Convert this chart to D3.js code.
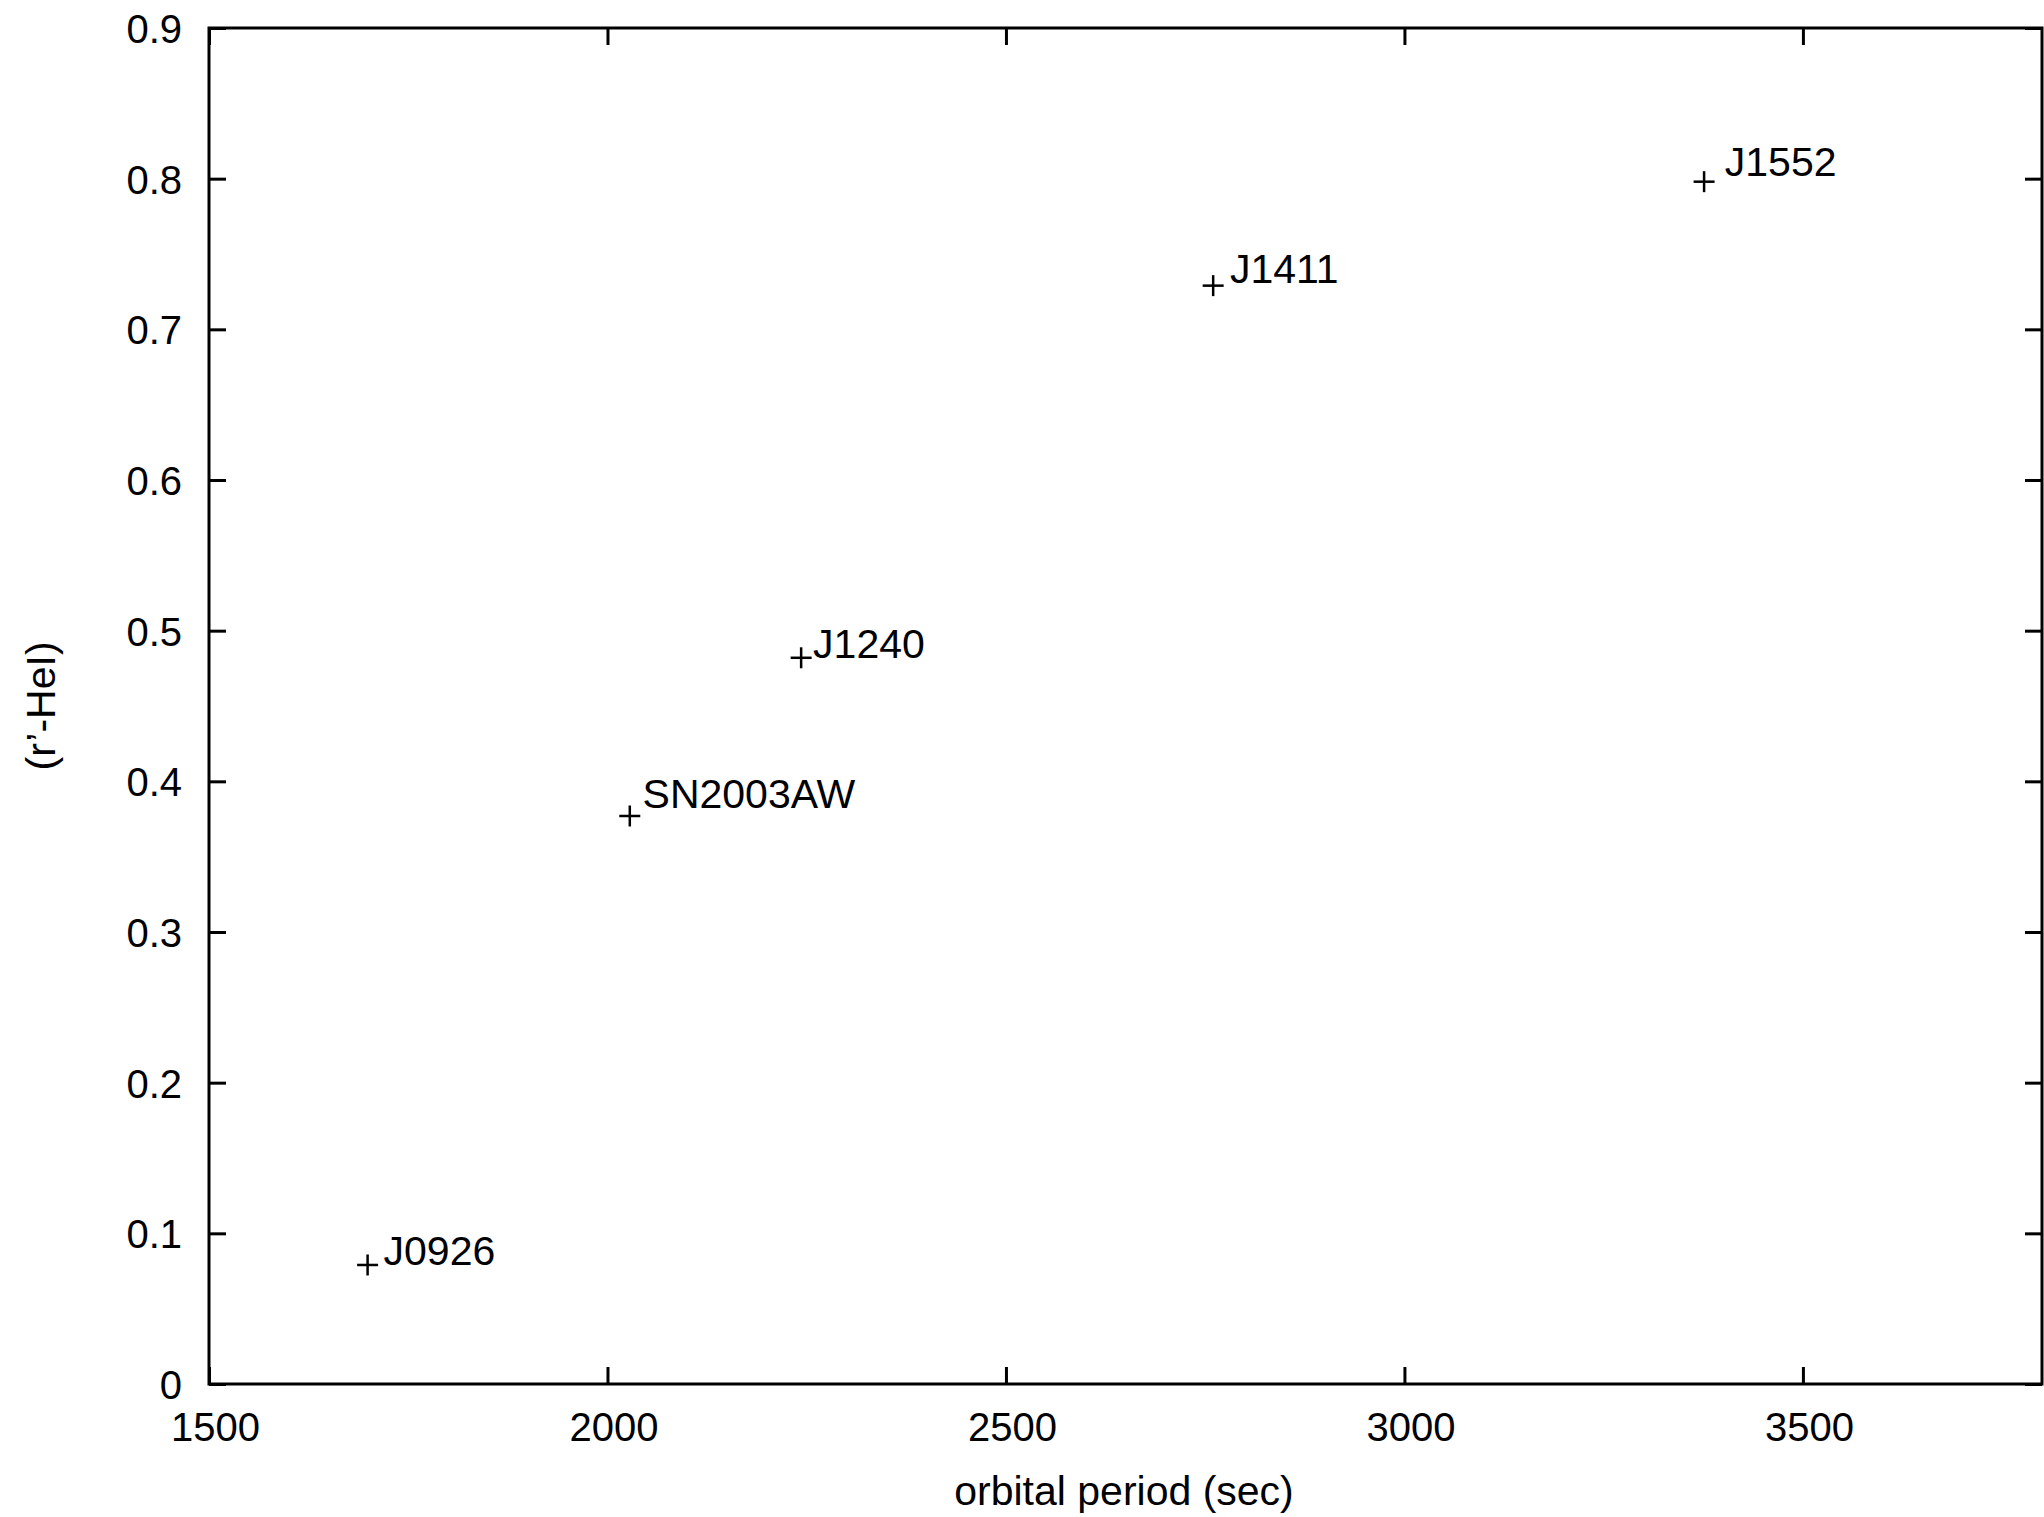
<!DOCTYPE html>
<html>
<head>
<meta charset="utf-8">
<script src="https://cdn.jsdelivr.net/npm/d3@7"></script>
<style>
  html, body { margin: 0; padding: 0; background: #fff; }
  svg { display: block; }
  text { font-family: "Liberation Sans", Arial, Helvetica, sans-serif; fill: #000; }
</style>
</head>
<body>
<script>
// Objects: orbital period (s) vs (r'-HeI) colour
const names = ["J0926", "SN2003AW", "J1240", "J1411", "J1552"];
const periods = [1699, 2028, 2243, 2760, 3376];
const colours = [0.079, 0.377, 0.482, 0.729, 0.798];

// Label anchors (data coordinates, left end of text baseline)
const labelPeriods = [1719, 2044, 2258, 2781, 3402];
const labelColours = [0.079, 0.382, 0.482, 0.731, 0.802];

const xTicks = [1500, 2000, 2500, 3000, 3500];
const yTicks = [0, 0.1, 0.2, 0.3, 0.4, 0.5, 0.6, 0.7, 0.8, 0.9];

const W = 2044, H = 1517;
const plot = { left: 209, right: 2042, top: 28, bottom: 1384 };

const svg = d3.select("body").append("svg")
  .attr("width", W).attr("height", H);

const x = d3.scaleLinear().domain([1500, 3800]).range([plot.left, plot.right]);
const y = d3.scaleLinear().domain([0, 0.9]).range([plot.bottom, plot.top]);

const tickLen = 17;
const fontSize = 40;
const labelSize = 41;

// Bottom axis: ticks point inward, labels below
const xAxisB = svg.append("g").attr("transform", `translate(0,${plot.bottom})`)
  .call(d3.axisBottom(x).tickValues(xTicks).tickSize(-tickLen).tickPadding(0).tickFormat(d3.format("d")));
xAxisB.select(".domain").remove();
xAxisB.selectAll(".tick line").attr("stroke", "#000").attr("stroke-width", 3);
xAxisB.selectAll(".tick text")
  .attr("font-size", fontSize).attr("font-family", null)
  .attr("y", 57).attr("dy", null).attr("dx", 6).attr("fill", "#000");

// Top mirror ticks
const xAxisT = svg.append("g").attr("transform", `translate(0,${plot.top})`)
  .call(d3.axisTop(x).tickValues(xTicks).tickSize(-tickLen).tickFormat(""));
xAxisT.select(".domain").remove();
xAxisT.selectAll(".tick line").attr("stroke", "#000").attr("stroke-width", 3);

// Left axis
const yAxisL = svg.append("g").attr("transform", `translate(${plot.left},0)`)
  .call(d3.axisLeft(y).tickValues(yTicks).tickSize(-tickLen).tickPadding(0)
    .tickFormat(d => d === 0 ? "0" : d3.format(".1f")(d)));
yAxisL.select(".domain").remove();
yAxisL.selectAll(".tick line").attr("stroke", "#000").attr("stroke-width", 3);
yAxisL.selectAll(".tick text")
  .attr("font-size", fontSize).attr("font-family", null)
  .attr("x", -27).attr("dy", "0.36em").attr("fill", "#000");

// Right mirror ticks
const yAxisR = svg.append("g").attr("transform", `translate(${plot.right},0)`)
  .call(d3.axisRight(y).tickValues(yTicks).tickSize(-tickLen).tickFormat(""));
yAxisR.select(".domain").remove();
yAxisR.selectAll(".tick line").attr("stroke", "#000").attr("stroke-width", 3);

// Border
svg.append("rect")
  .attr("x", plot.left).attr("y", plot.top)
  .attr("width", plot.right - plot.left).attr("height", plot.bottom - plot.top)
  .attr("fill", "none").attr("stroke", "#000").attr("stroke-width", 3);

// Axis titles
svg.append("text")
  .attr("x", 1124).attr("y", 1505)
  .attr("text-anchor", "middle").attr("font-size", labelSize)
  .text("orbital period (sec)");

svg.append("text")
  .attr("transform", `translate(55,${706}) rotate(-90)`)
  .attr("text-anchor", "middle").attr("font-size", labelSize)
  .text("(r’-HeI)");

// Point markers (+)
const half = 10.5;
const pts = svg.append("g").attr("stroke", "#000").attr("stroke-width", 2.5);
periods.forEach((p, i) => {
  const cx = x(p), cy = y(colours[i]);
  pts.append("line").attr("x1", cx - half).attr("x2", cx + half).attr("y1", cy).attr("y2", cy);
  pts.append("line").attr("x1", cx).attr("x2", cx).attr("y1", cy - half).attr("y2", cy + half);
});

// Object labels
svg.append("g").selectAll("text").data(names).join("text")
  .attr("x", (d, i) => x(labelPeriods[i]))
  .attr("y", (d, i) => y(labelColours[i]))
  .attr("font-size", labelSize)
  .text(d => d);
</script>
</body>
</html>
